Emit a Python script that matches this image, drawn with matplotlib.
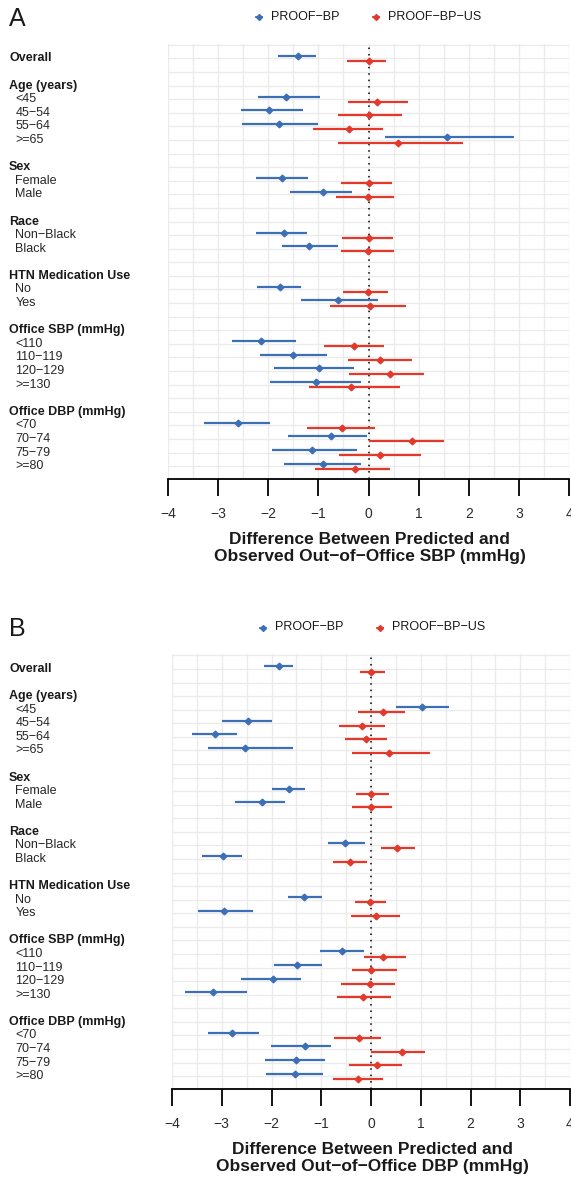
import numpy as np
import matplotlib
matplotlib.use("Agg")
import matplotlib.pyplot as plt
from matplotlib.lines import Line2D
from matplotlib.transforms import blended_transform_factory

plt.rcParams["font.family"] = ["Liberation Sans", "DejaVu Sans"]

# rows of the forest plot, top to bottom ("" = spacer row)
row_labels = ["Overall", "", "Age (years)", "<45", "45−54", "55−64", ">=65", "",
              "Sex", "Female", "Male", "", "Race", "Non−Black", "Black", "",
              "HTN Medication Use", "No", "Yes", "",
              "Office SBP (mmHg)", "<110", "110−119", "120−129", ">=130", "",
              "Office DBP (mmHg)", "<70", "70−74", "75−79", ">=80"]
headers = ["Overall", "Age (years)", "Sex", "Race", "HTN Medication Use",
           "Office SBP (mmHg)", "Office DBP (mmHg)"]

# subgroups that carry estimates, in plotting order
subgroups = ["Overall", "<45", "45−54", "55−64", ">=65", "Female", "Male",
             "Non−Black", "Black", "No", "Yes", "<110", "110−119", "120−129",
             ">=130", "<70", "70−74", "75−79", ">=80"]

series_names = ["PROOF−BP", "PROOF−BP−US"]

# Panel A: SBP
sbp_bp_est = [-1.41, -1.64, -1.99, -1.78, 1.56, -1.72, -0.91, -1.69, -1.18, -1.77, -0.60,
              -2.15, -1.50, -0.99, -1.05, -2.61, -0.75, -1.13, -0.91]
sbp_bp_lo = [-1.81, -2.21, -2.55, -2.53, 0.32, -2.24, -1.57, -2.24, -1.72, -2.22, -1.35,
             -2.72, -2.16, -1.89, -1.97, -3.28, -1.60, -1.93, -1.68]
sbp_bp_hi = [-1.05, -0.96, -1.31, -1.00, 2.91, -1.20, -0.33, -1.23, -0.60, -1.34, 0.19,
             -1.44, -0.83, -0.29, -0.15, -1.96, -0.02, -0.22, -0.15]
sbp_us_est = [0.00, 0.17, 0.01, -0.38, 0.59, 0.01, -0.01, 0.01, -0.01, -0.01, 0.02,
              -0.29, 0.23, 0.42, -0.34, -0.53, 0.86, 0.23, -0.27]
sbp_us_lo = [-0.42, -0.40, -0.61, -1.11, -0.61, -0.55, -0.64, -0.53, -0.55, -0.51, -0.77,
             -0.89, -0.41, -0.39, -1.18, -1.22, 0.01, -0.59, -1.07]
sbp_us_hi = [0.35, 0.78, 0.66, 0.29, 1.88, 0.46, 0.51, 0.48, 0.50, 0.39, 0.74,
             0.31, 0.87, 1.11, 0.62, 0.12, 1.50, 1.04, 0.43]

# Panel B: DBP
dbp_bp_est = [-1.85, 1.03, -2.48, -3.14, -2.53, -1.64, -2.19, -0.52, -2.97, -1.34, -2.95,
              -0.58, -1.48, -1.97, -3.18, -2.79, -1.33, -1.51, -1.53]
dbp_bp_lo = [-2.15, 0.50, -3.00, -3.59, -3.28, -2.00, -2.73, -0.86, -3.40, -1.66, -3.47,
             -1.02, -1.95, -2.62, -3.74, -3.28, -2.02, -2.14, -2.11]
dbp_bp_hi = [-1.56, 1.57, -2.00, -2.69, -1.56, -1.32, -1.73, -0.12, -2.60, -0.99, -2.37,
             -0.14, -0.99, -1.40, -2.49, -2.25, -0.80, -0.93, -0.96]
dbp_us_est = [0.01, 0.24, -0.18, -0.10, 0.36, 0.01, 0.00, 0.52, -0.42, -0.03, 0.10,
              0.24, 0.01, -0.02, -0.17, -0.25, 0.63, 0.13, -0.26]
dbp_us_lo = [-0.23, -0.26, -0.65, -0.53, -0.39, -0.31, -0.39, 0.20, -0.77, -0.33, -0.41,
             -0.15, -0.39, -0.60, -0.68, -0.74, 0.00, -0.45, -0.77]
dbp_us_hi = [0.28, 0.69, 0.29, 0.33, 1.18, 0.36, 0.43, 0.89, -0.08, 0.31, 0.58,
             0.70, 0.52, 0.48, 0.41, 0.20, 1.09, 0.62, 0.25]

x_ticks = [-4, -3, -2, -1, 0, 1, 2, 3, 4]
xlabels = ["Difference Between Predicted and\nObserved Out−of−Office SBP (mmHg)",
           "Difference Between Predicted and\nObserved Out−of−Office DBP (mmHg)"]

BLUE = "#3D6FB6"
RED = "#E2392B"
W, H = 571, 1177


def sub_rows():
    # row index of each subgroup (labels like "<45" are unique within row_labels)
    return np.array([row_labels.index(s) for s in subgroups], dtype=float)


def draw_panel(fig, box, letter, legend_y, series, xlabel, xlabel_y):
    left, right, top, bottom = box
    ax = fig.add_axes([left / W, 1 - bottom / H, (right - left) / W, (bottom - top) / H])
    n = len(row_labels)
    ax.set_xlim(-4, 4)
    ax.set_ylim(n - 1 + 0.95, -1.1)

    # grid
    for xv in np.arange(-4, 4.01, 0.5):
        ax.axvline(xv, color="#EBEBEB", lw=1.0, zorder=0)
    for yv in range(-1, n):
        ax.axhline(yv, color="#EBEBEB", lw=1.0, zorder=0)
    ax.axvline(0, color="black", lw=1.1, ls=(0, (1, 3.2)), zorder=1)

    rows = sub_rows()
    offs = [-0.19, 0.19]
    for (est, lo, hi), col, off in zip(series, [BLUE, RED], offs):
        y = rows + off
        ax.hlines(y, lo, hi, color=col, lw=1.6, zorder=3)
        ax.plot(est, y, "D", color=col, ms=3.4, mec=col, zorder=4)

    for s in ["top", "right", "left"]:
        ax.spines[s].set_visible(False)
    ax.spines["bottom"].set_linewidth(1.3)
    ax.set_yticks([])
    ax.set_xticks(x_ticks)
    ax.set_xticklabels([f"{t}".replace("-", "−") for t in x_ticks])
    ax.tick_params(axis="x", length=12.5, width=1.3, pad=8, labelsize=10,
                   labelcolor="#2B2B2B", direction="out")

    # row labels, left aligned at the figure edge
    tr = blended_transform_factory(fig.transFigure, ax.transData)
    for i, lab in enumerate(row_labels):
        if not lab:
            continue
        if lab in headers:
            ax.text(9 / W, i, lab, transform=tr, ha="left", va="center",
                    fontsize=9, fontweight="bold", color="#1A1A1A")
        else:
            ax.text(15.5 / W, i, lab, transform=tr, ha="left", va="center",
                    fontsize=9, color="#262626")

    # panel letter
    fig.text(9 / W, 1 - (legend_y + 2) / H, letter, fontsize=18, ha="left",
             va="center", color="#1A1A1A")

    # legend
    xm = [left + 91, left + 208]
    for name, col, xx in zip(series_names, [BLUE, RED], xm):
        yy = 1 - legend_y / H
        fig.add_artist(Line2D([(xx - 3) / W, (xx + 3) / W], [yy, yy], color=col, lw=1.3,
                              transform=fig.transFigure))
        fig.add_artist(Line2D([xx / W], [yy], marker="D", ms=3.0, color=col,
                              transform=fig.transFigure))
        fig.text((xx + 12) / W, yy, name, fontsize=9, ha="left", va="center",
                 color="#1A1A1A")

    fig.text(((left + right) / 2 + 1) / W, 1 - xlabel_y / H, xlabel, fontsize=12.5,
             fontweight="bold", ha="center", va="center", linespacing=1.1,
             color="#1A1A1A")
    return ax


fig = plt.figure(figsize=(W / 100, H / 100), dpi=100)
fig.patch.set_facecolor("white")

draw_panel(fig, (168, 569, 43.5, 479), "A", 17,
           [(sbp_bp_est, sbp_bp_lo, sbp_bp_hi), (sbp_us_est, sbp_us_lo, sbp_us_hi)],
           xlabels[0], 548)
draw_panel(fig, (172, 570, 654, 1089), "B", 627.5,
           [(dbp_bp_est, dbp_bp_lo, dbp_bp_hi), (dbp_us_est, dbp_us_lo, dbp_us_hi)],
           xlabels[1], 1158)

fig.savefig("out.png", dpi=100)
